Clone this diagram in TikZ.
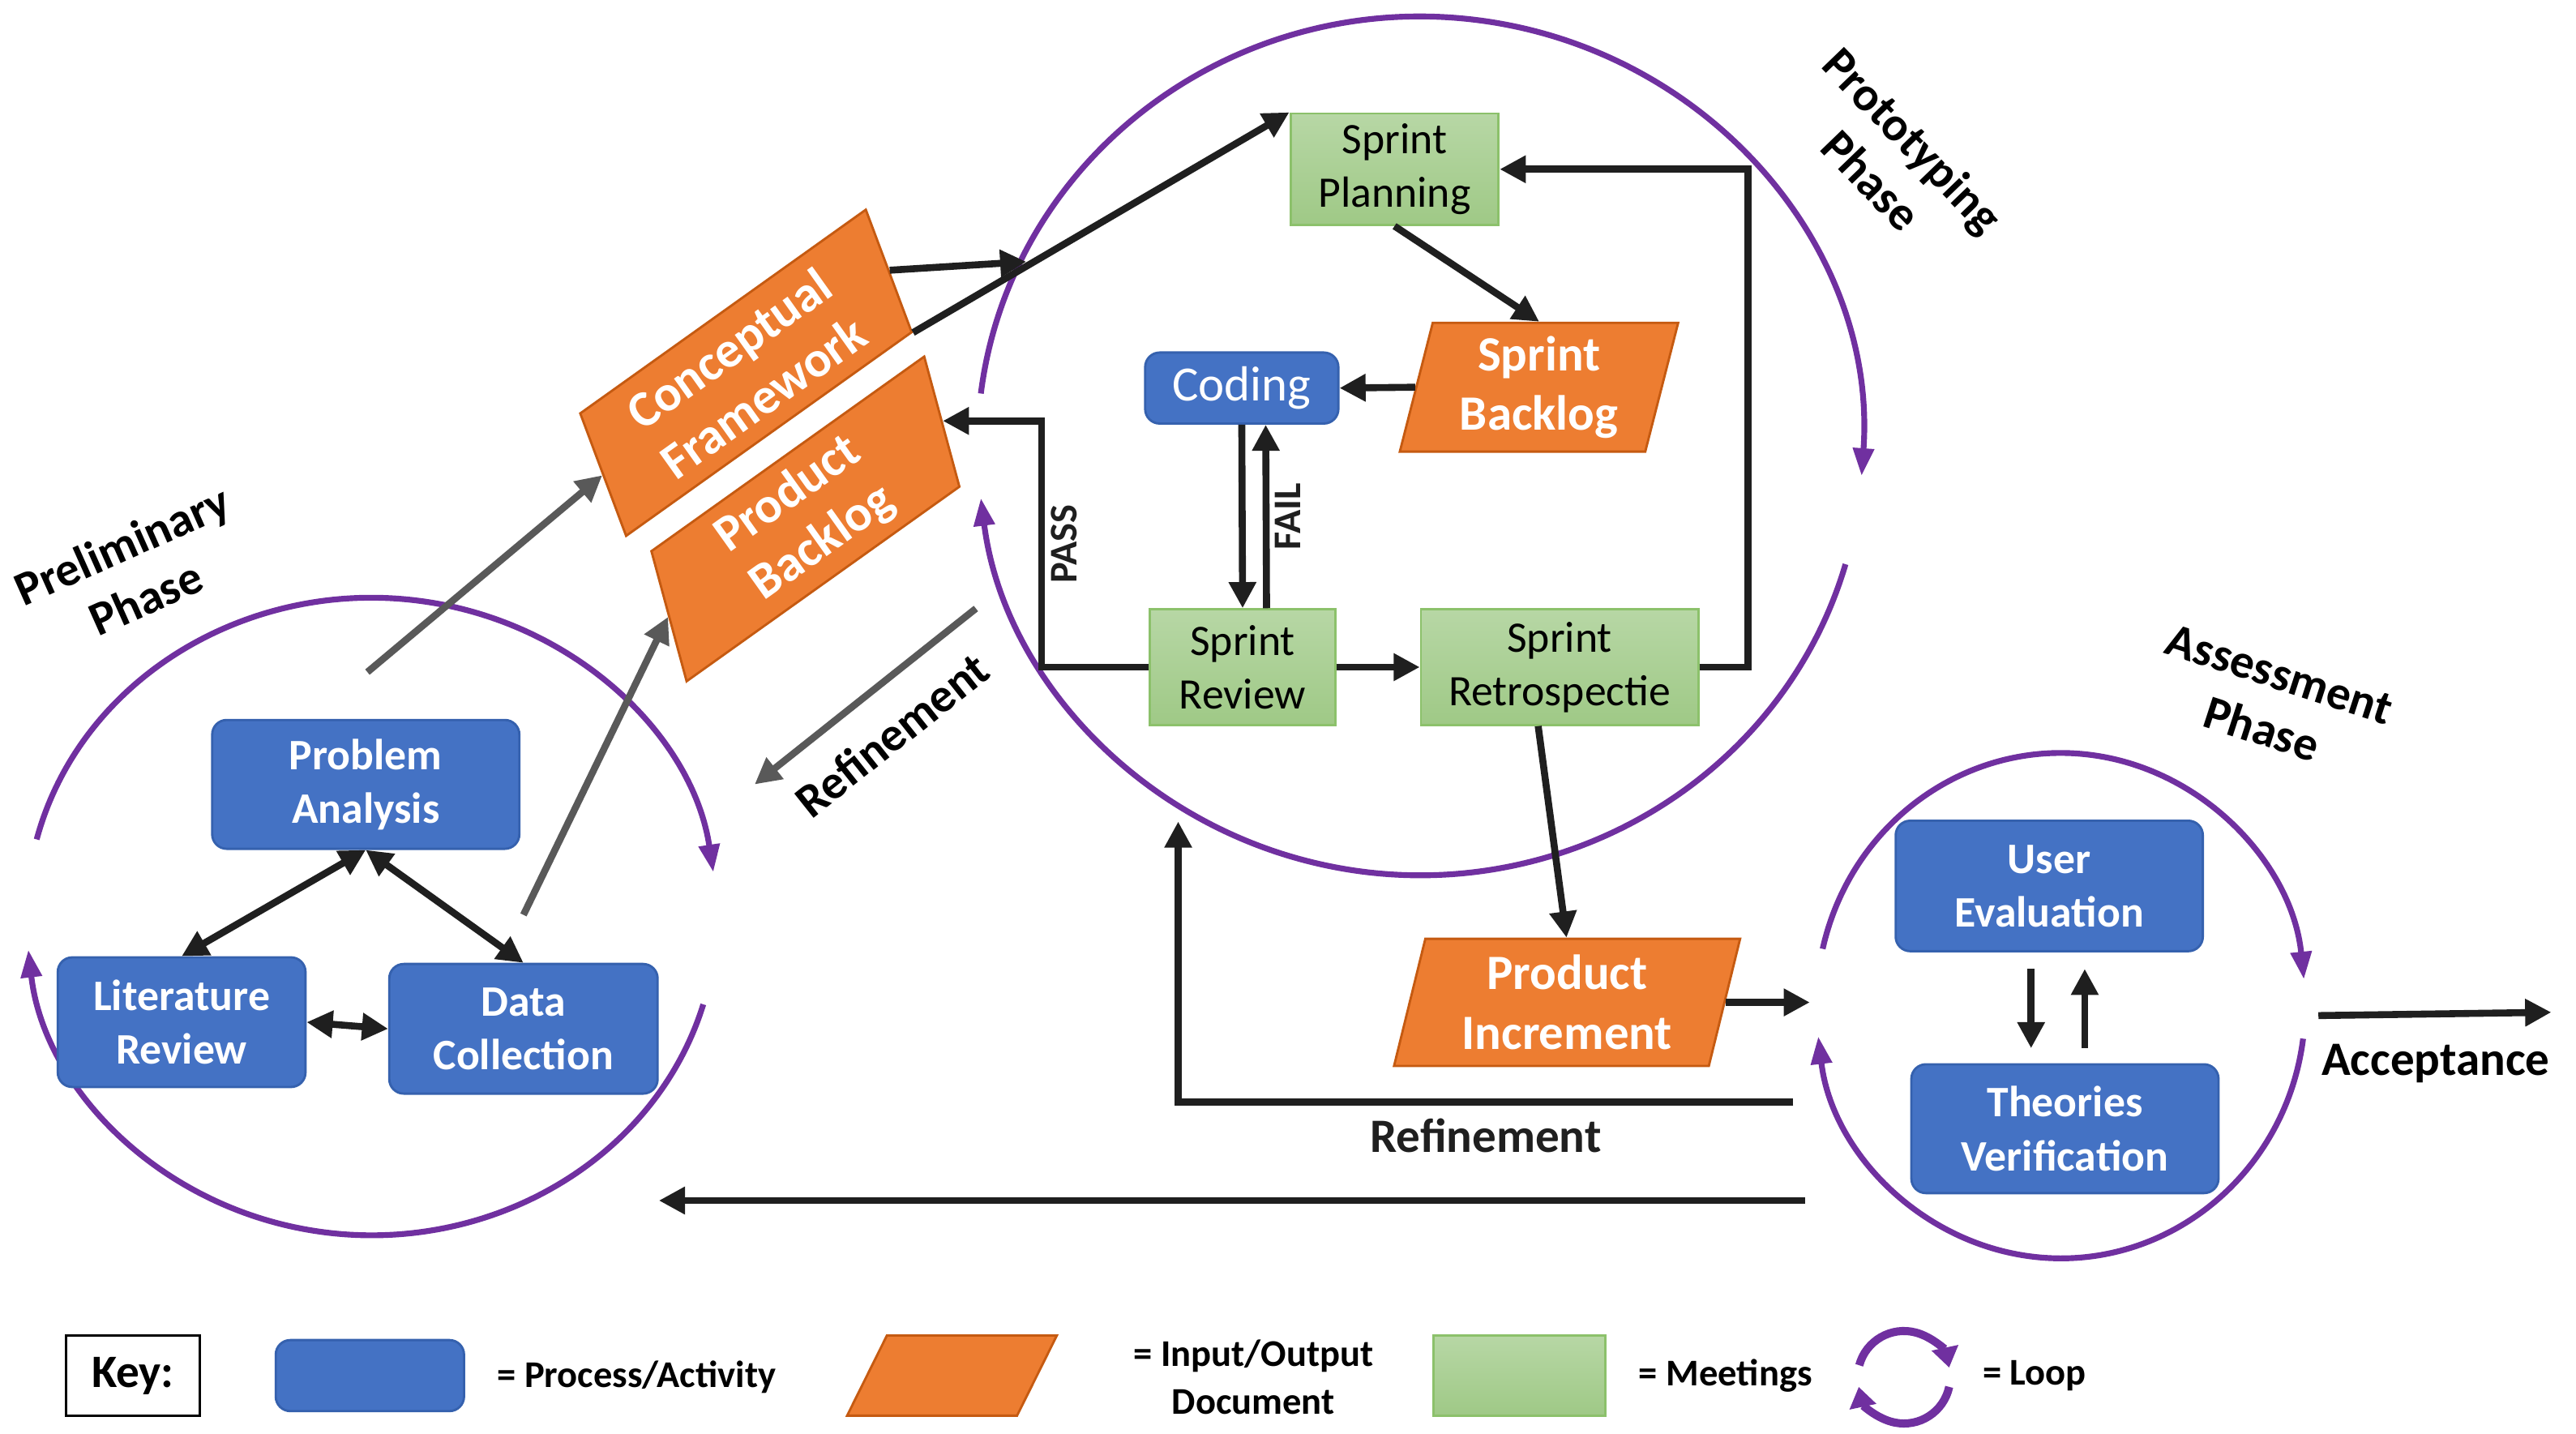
\documentclass[tikz,border=0pt]{standalone}
\usepackage{fontspec}
\setmainfont{Carlito}
\usetikzlibrary{shapes.geometric,arrows.meta}

\definecolor{procblue}{HTML}{4472C4}
\definecolor{procedge}{HTML}{3561AE}
\definecolor{docorange}{HTML}{ED7D31}
\definecolor{docedge}{HTML}{C55A11}
\definecolor{meettop}{HTML}{B7D7A5}
\definecolor{meetbottom}{HTML}{9FC986}
\definecolor{meetedge}{HTML}{8CC16B}
\definecolor{loopviolet}{HTML}{7030A0}
\definecolor{refgrey}{HTML}{595959}

\tikzset{
    procbox/.style={draw=procedge, line width=0.8pt, fill=procblue, rounded corners=5pt,
        text=white, align=center, inner sep=2pt, font=\bfseries\fontsize{15}{18.5}\selectfont},
    meetbox/.style={draw=meetedge, line width=0.8pt, top color=meettop, bottom color=meetbottom,
        align=center, inner sep=2pt, font=\fontsize{15}{18.5}\selectfont},
    docbox/.style={trapezium, trapezium left angle=77, trapezium right angle=103,
        trapezium stretches=true, draw=docedge, line width=0.8pt, fill=docorange, text=white,
        align=center, inner sep=2pt, font=\bfseries\fontsize{17}{20.5}\selectfont},
    flow/.style={line width=2.4pt, black!88, -{Triangle[length=9pt,width=9pt]}},
    twoway/.style={line width=2.4pt, black!88, {Triangle[length=9pt,width=9pt]}-{Triangle[length=9pt,width=9pt]}},
    greyflow/.style={line width=2.4pt, refgrey, -{Triangle[length=9pt,width=9pt]}},
    looparc/.style={line width=2pt, loopviolet, -{Triangle[length=9.5pt,width=7pt]}},
    phaselabel/.style={align=center, font=\bfseries\fontsize{16.5}{20}\selectfont},
    flowlabel/.style={inner sep=2pt, font=\bfseries\fontsize{13.5}{16}\selectfont},
    keytext/.style={align=center, font=\bfseries\fontsize{13}{16.5}\selectfont}
}

\begin{document}
\begin{tikzpicture}
    \useasboundingbox (0,0) rectangle (31.2,17.36);
    %% phase loops
    \coordinate (prelim) at (4.5,6.26);
    \coordinate (proto) at (17.2,11.96);
    \coordinate (assess) at (24.96,5.18);
    \foreach \c/\rx/\ry/\a/\b/\d/\e in {prelim/4.18/3.86/166/8/-16/-174,
                                         proto/5.36/5.2/173/-4/-16/-173,
                                         assess/2.96/3.06/167/6/-7.5/-173}
    {
        \draw[looparc] (\c) ++(\a:\rx cm and \ry cm) arc[start angle=\a, end angle=\b, x radius=\rx cm, y radius=\ry cm];
        \draw[looparc] (\c) ++(\d:\rx cm and \ry cm) arc[start angle=\d, end angle=\e, x radius=\rx cm, y radius=\ry cm];
    }
    \node[phaselabel, rotate=24] (prelimlabel) at (1.62,10.44) {Preliminary\\Phase};
    \node[phaselabel, rotate=-46] (protolabel) at (22.92,15.42) {Prototyping\\Phase};
    \node[phaselabel, rotate=-18] (assesslabel) at (27.5,8.86) {Assessment\\Phase};

    %% nodes
    \node[procbox, minimum width=3.72cm, minimum height=1.56cm] (analysis) at (4.43,7.86) {Problem\\Analysis};
    \node[procbox, minimum width=3.0cm, minimum height=1.57cm] (literature) at (2.2,4.98) {Literature\\Review};
    \node[procbox, minimum width=3.25cm, minimum height=1.57cm] (collection) at (6.34,4.90) {Data\\Collection};
    \node[docbox, rotate=35.5, trapezium left angle=76, trapezium right angle=104, minimum width=4.66cm,
          minimum height=1.53cm, font=\bfseries\fontsize{17.5}{20.5}\selectfont] (framework) at (9.035,12.845) {Conceptual\\Framework};
    \node[docbox, rotate=35.5, trapezium left angle=76, trapezium right angle=104, minimum width=4.66cm,
          minimum height=1.53cm, font=\bfseries\fontsize{17.5}{20.5}\selectfont] (productbacklog) at (9.755,11.075) {Product\\Backlog};
    \node[meetbox, minimum width=2.52cm, minimum height=1.35cm] (planning) at (16.89,15.31) {Sprint\\Planning};
    \node[docbox, minimum width=3.38cm, minimum height=1.56cm] (sprintbacklog) at (18.64,12.67) {Sprint\\Backlog};
    \node[procbox, minimum width=2.34cm, minimum height=0.86cm, font=\fontsize{17}{20}\selectfont] (coding) at (15.04,12.66) {Coding};
    \node[meetbox, minimum width=2.24cm, minimum height=1.40cm] (review) at (15.05,9.28) {Sprint\\Review};
    \node[meetbox, minimum width=3.36cm, minimum height=1.40cm] (retro) at (18.89,9.28) {Sprint\\Retrospectie};
    \node[docbox, minimum width=4.2cm, minimum height=1.54cm] (increment) at (18.98,5.22) {Product\\Increment};
    \node[procbox, minimum width=3.72cm, minimum height=1.58cm] (evaluation) at (24.82,6.63) {User\\Evaluation};
    \node[procbox, minimum width=3.72cm, minimum height=1.56cm] (verification) at (25.01,3.69) {Theories\\Verification};

    %% preliminary phase
    \draw[twoway] (analysis.south) -- (literature.north);
    \draw[twoway] (analysis.south) -- (collection.north);
    \draw[twoway] (literature.east) -- (collection.west);
    \coordinate (fromprelim) at (4.45,9.22);
    \coordinate (fromdata) at (6.34,6.28);
    \draw[greyflow] (fromprelim) -- (framework.left side);
    \draw[greyflow] (fromdata) -- (productbacklog.left side);
    \coordinate (refinestart) at (11.82,9.99);
    \coordinate (refineend) at (9.14,7.86);
    \draw[greyflow] (refinestart) -- (refineend);
    \node[phaselabel, rotate=38.5] (refinelabel) at (10.8,8.46) {Refinement};

    %% prototyping phase
    \coordinate (intoproto) at (12.43,14.19);
    \draw[flow] (framework.right side) -- (intoproto);
    \draw[flow] (framework.bottom right corner) -- (planning.north west);
    \draw[flow] (planning.south) -- ([xshift=-0.2cm]sprintbacklog.top side);
    \draw[flow] (sprintbacklog.left side) -- (coding.east);
    \draw[flow] (coding.south) -- (review.north);
    \draw[flow] ([xshift=0.29cm]review.north) -- ([xshift=0.29cm]coding.south)
        node[midway, rotate=90, anchor=north, flowlabel] (fail) {FAIL};
    \draw[flow] (review.west) -- ++(-1.3,0) |- node[pos=0.25, rotate=90, anchor=north, flowlabel] (pass) {PASS}
        (productbacklog.right side);
    \draw[flow] (review.east) -- (retro.west);
    \draw[flow] (retro.east) -- ++(0.59,0) |- (planning.east);
    \draw[flow] ([xshift=-0.26cm]retro.south) -- ([xshift=-0.2cm]increment.top side);

    %% assessment phase
    \coordinate (intoassess) at (21.92,5.22);
    \draw[flow] (increment.right side) -- (intoassess);
    \draw[flow, shorten <=0.2cm, shorten >=0.18cm] ([xshift=-0.22cm]evaluation.south)
        -- ([xshift=-0.22cm]evaluation.south |- verification.north);
    \draw[flow, shorten <=0.18cm, shorten >=0.2cm] ([xshift=0.43cm]evaluation.south |- verification.north)
        -- ([xshift=0.43cm]evaluation.south);
    \coordinate (acceptstart) at (28.08,5.06);
    \coordinate (acceptend) at (30.9,5.10);
    \draw[flow] (acceptstart) -- (acceptend);
    \node[phaselabel] (acceptlabel) at (29.5,4.48) {Acceptance};

    %% refinement back
    \coordinate (backproto) at (21.72,4.01);
    \coordinate (protoentry) at (14.27,7.41);
    \draw[flow] (backproto) -| node[pos=0.25, below=1pt, phaselabel] (refinelower) {Refinement} (protoentry);
    \coordinate (backprelim) at (21.86,2.82);
    \coordinate (prelimentry) at (7.98,2.82);
    \draw[flow] (backprelim) -- (prelimentry);

    %% key
    \node[draw, line width=1pt, minimum width=1.62cm, minimum height=0.97cm,
          font=\bfseries\fontsize{16}{19}\selectfont] (key) at (1.61,0.70) {Key:};
    \node[procbox, minimum width=2.28cm, minimum height=0.86cm] (keyprocess) at (4.48,0.70) {};
    \node[keytext] (keyprocesstext) at (7.71,0.68) {= Process/Activity};
    \node[docbox, trapezium left angle=73, trapezium right angle=107, minimum width=2.54cm,
          minimum height=0.97cm] (keydoc) at (11.53,0.70) {};
    \node[keytext] (keydoctext) at (15.18,0.68) {= Input/Output\\Document};
    \node[meetbox, minimum width=2.08cm, minimum height=0.97cm] (keymeet) at (18.4,0.70) {};
    \node[keytext] (keymeettext) at (20.9,0.70) {= Meetings};
    \coordinate (keyloop) at (23.06,0.68);
    \draw[looparc, line width=2.8pt, -{Triangle[length=7pt,width=9pt]}] (keyloop) ++(165:0.56) arc[start angle=165, end angle=12, radius=0.56cm];
    \draw[looparc, line width=2.8pt, -{Triangle[length=7pt,width=9pt]}] (keyloop) ++(-12:0.56) arc[start angle=-12, end angle=-168, radius=0.56cm];
    \node[keytext] (keylooptext) at (24.64,0.70) {= Loop};
\end{tikzpicture}
\end{document}
